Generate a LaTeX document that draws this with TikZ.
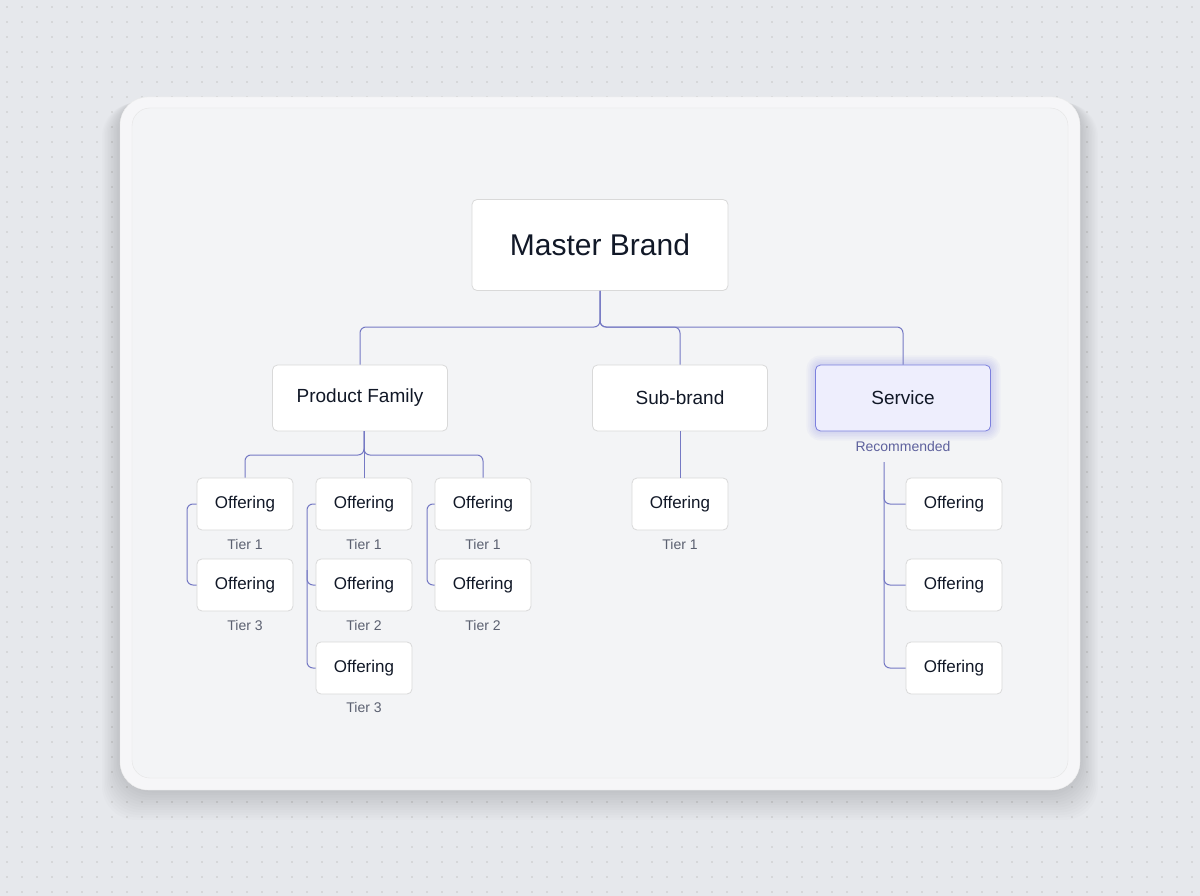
\documentclass[tikz,border=0pt]{standalone}
\usepackage{fontspec}
\setmainfont{Liberation Sans}
\usepackage{tikz}
\usetikzlibrary{positioning}
\definecolor{bgc}{HTML}{E6E8EC}
\definecolor{cardc}{HTML}{F6F6F8}
\definecolor{panelc}{HTML}{F3F4F6}
\definecolor{linec}{HTML}{7579C4}
\definecolor{textc}{HTML}{111827}
\definecolor{tierc}{HTML}{5B6070}
\definecolor{servc}{HTML}{EEEEFD}
\definecolor{servb}{HTML}{7C80DE}

\begin{document}
\begin{tikzpicture}[x=1pt,y=-1pt,
    box/.style={draw=black!15,fill=white,rounded corners=5pt,line width=0.8pt,
      text=textc,inner sep=0pt,align=center},
    big/.style={box,minimum width=256pt,minimum height=91pt,font=\fontsize{30}{34}\selectfont},
    mid/.style={box,minimum width=175pt,minimum height=66pt,font=\fontsize{19}{22}\selectfont},
    offer/.style={box,minimum width=96pt,minimum height=52pt,font=\fontsize{17}{20}\selectfont},
    tier/.style={text=tierc,font=\fontsize{14}{16}\selectfont},
    link/.style={draw=linec,line width=1pt,rounded corners=6pt}]

  % background and card
  \fill[bgc] (0,0) rectangle (1200,896);
  \foreach \i in {0,...,79} \foreach \j in {0,...,59}
    \fill[black!22] (\i*15+7,\j*15+7) circle (0.9);
  \foreach \k in {1,...,12}
    \fill[black,opacity=0.012,rounded corners=34pt] (120-\k*1.5,97+\k*0.5) rectangle (1080+\k*1.5,790+\k*2.5);
  \fill[cardc,draw=black!8,rounded corners=28pt] (120,97) rectangle (1080,790);
  \fill[panelc,draw=black!10,rounded corners=18pt] (132,108) rectangle (1068,778);

  \node[big] (mb) at (600,245) {Master Brand};
  \node[mid] (pf) at (360,398) {Product Family};
  \node[mid] (sb) at (680,398) {Sub-brand};
  \foreach \k in {1,...,6}
    \fill[servb,opacity=0.045,rounded corners=5pt+\k*1.5pt] (816-\k*1.6,365-\k*1.6) rectangle (991+\k*1.6,431+\k*1.6);
  \node[mid,fill=servc,draw=servb] (sv) at (903,398) {Service};
  \node[text=linec!80!black,font=\fontsize{14}{16}\selectfont] (rec) at (903,446) {Recommended};

  \node[offer] (o11) at (245,504) {Offering};
  \node[offer] (o12) at (245,585) {Offering};
  \node[offer] (o21) at (364,504) {Offering};
  \node[offer] (o22) at (364,585) {Offering};
  \node[offer] (o23) at (364,668) {Offering};
  \node[offer] (o31) at (483,504) {Offering};
  \node[offer] (o32) at (483,585) {Offering};
  \node[offer] (o41) at (680,504) {Offering};
  \node[offer] (o51) at (954,504) {Offering};
  \node[offer] (o52) at (954,585) {Offering};
  \node[offer] (o53) at (954,668) {Offering};

  \node[tier] (t11) at (245,544) {Tier 1};
  \node[tier] (t12) at (245,625) {Tier 3};
  \node[tier] (t21) at (364,544) {Tier 1};
  \node[tier] (t22) at (364,625) {Tier 2};
  \node[tier] (t23) at (364,707) {Tier 3};
  \node[tier] (t31) at (483,544) {Tier 1};
  \node[tier] (t32) at (483,625) {Tier 2};
  \node[tier] (t41) at (680,544) {Tier 1};

  % tree links
  \draw[link] (mb.south) |- (600,327) -| (pf.north);
  \draw[link] (mb.south) -- (600,327) -| (sb.north);
  \draw[link] (mb.south) |- (600,327) -| (sv.north);
  \coordinate (pfs) at (364,431);
  \draw[link] (pfs) |- (364,455) -| (o11.north);
  \draw[link] (pfs) -- (o21.north);
  \draw[link] (pfs) |- (364,455) -| (o31.north);
  \draw[link] (sb.south) -- (o41.north);

  \draw[link] (o11.west) -| (187,545) |- (o12.west);
  \draw[link] (o21.west) -| (307,585) |- (o23.west);
  \draw[link] (307,570) |- (o22.west);
  \draw[link] (o31.west) -| (427,545) |- (o32.west);

  \coordinate (sx) at (884,462);
  \draw[link] (sx) |- (o53.west);
  \draw[link] (884,490) |- (o51.west);
  \draw[link] (884,570) |- (o52.west);
\end{tikzpicture}
\end{document}
